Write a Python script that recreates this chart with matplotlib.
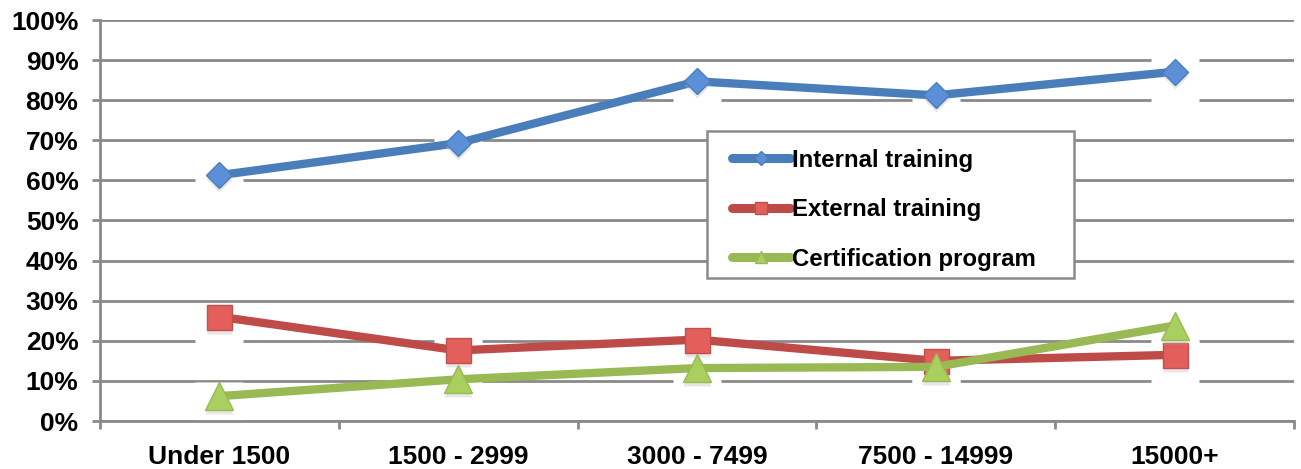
import matplotlib
matplotlib.use("Agg")
import matplotlib.pyplot as plt
from matplotlib.lines import Line2D
from matplotlib.path import Path
from matplotlib.markers import MarkerStyle
from matplotlib.patches import Rectangle
import matplotlib.transforms as mtransforms

categories = ["Under 1500", "1500 - 2999", "3000 - 7499", "7500 - 14999", "15000+"]
internal = [61.3, 69.3, 84.7, 81.2, 87.1]
external = [26.0, 17.6, 20.3, 15.0, 16.5]
certification = [6.2, 10.4, 13.2, 13.5, 23.8]
series_names = ["Internal training", "External training", "Certification program"]
y_ticks = [0, 10, 20, 30, 40, 50, 60, 70, 80, 90, 100]
y_tick_labels = [f"{v}%" for v in y_ticks]

plt.rcParams['font.family'] = ['Liberation Sans', 'DejaVu Sans']
plt.rcParams['font.weight'] = 'bold'

fig = plt.figure(figsize=(13.01, 4.69), dpi=100)
ax = fig.add_axes([100/1301, 1-421/469, 1194/1301, 401/469])

grid_color = "#8a8a8a"
x = list(range(len(categories)))

# white halo boxes behind markers (break gridlines like the original)
halo_path = Path([(-24, -30), (24, -30), (24, 14), (-24, 14), (-24, -30)],
                 [Path.MOVETO, Path.LINETO, Path.LINETO, Path.LINETO, Path.CLOSEPOLY])
halo = MarkerStyle(halo_path)
for vals in (internal, external, certification):
    ax.plot(x, vals, linestyle='none', marker=halo, markersize=43.2,
            markerfacecolor='white', markeredgecolor='none', zorder=1.5)

styles = [
    dict(color="#4a7ebb", marker='D', ms=13, mfc="#5b90d8", mec="#4a7ebb"),
    dict(color="#be4b48", marker='s', ms=18, mfc="#e25f5b", mec="#c0504d"),
    dict(color="#98b954", marker='^', ms=19.5, mfc="#a9cf5e", mec="#98b954"),
]
shadow_tr = mtransforms.offset_copy(ax.transData, fig=fig, x=0, y=-4, units='dots')
for i, (vals, st) in enumerate(zip((internal, external, certification), styles)):
    ax.plot(x, vals, color=st['color'], linewidth=6, solid_capstyle='round',
            zorder=3 + i)
    ax.plot(x, vals, linestyle='none', marker=st['marker'], markersize=st['ms'],
            markerfacecolor='#bbbbbb', markeredgecolor='none', alpha=0.35,
            transform=shadow_tr, zorder=3 + i)
    ax.plot(x, vals, linestyle='none', marker=st['marker'], markersize=st['ms'],
            markerfacecolor=st['mfc'], markeredgecolor=st['mec'], markeredgewidth=1.0,
            zorder=3.5 + i)

ax.set_xlim(-0.5, len(categories) - 0.5)
ax.set_ylim(0, 100)
ax.set_yticks(y_ticks)
ax.set_yticklabels(y_tick_labels)
ax.yaxis.grid(True, color=grid_color, linewidth=2.0, zorder=0.5)
ax.set_axisbelow(True)

ax.set_xticks(x)
ax.set_xticklabels(categories)
ax.set_xticks([i - 0.5 for i in range(len(categories) + 1)], minor=True)
ax.tick_params(axis='x', which='major', length=0, pad=17.5, labelsize=19)
ax.tick_params(axis='x', which='minor', length=6, width=2.0, color=grid_color, direction='out')
ax.tick_params(axis='y', which='major', length=6, width=2.0, color=grid_color,
               direction='out', pad=9.5, labelsize=19)

for s in ('top', 'right'):
    ax.spines[s].set_visible(False)
for s in ('left', 'bottom'):
    ax.spines[s].set_color(grid_color)
    ax.spines[s].set_linewidth(2.0)

# legend frame drawn separately for exact padding
ax.add_patch(Rectangle((0.5084, 0.3566), 0.8157 - 0.5084, 0.7232 - 0.3566,
                       transform=ax.transAxes, facecolor='white', edgecolor=grid_color,
                       linewidth=1.8, zorder=9))
handles = []
for st, name in zip(styles, series_names):
    small = {'D': 7, 's': 9, '^': 9}[st['marker']]
    handles.append(Line2D([0], [0], color=st['color'], linewidth=6.5, solid_capstyle='round',
                          marker=st['marker'], markersize=small,
                          markerfacecolor=st['mfc'], markeredgecolor=st['mec']))
leg = ax.legend(handles, series_names, loc='upper left', bbox_to_anchor=(0.5293, 0.679),
                frameon=False, handlelength=2.42, handletextpad=0.08,
                labelspacing=1.1, borderpad=0, borderaxespad=0,
                prop={'weight': 'bold', 'size': 17.3})
leg.set_zorder(10)

fig.savefig("out.png", dpi=100)
